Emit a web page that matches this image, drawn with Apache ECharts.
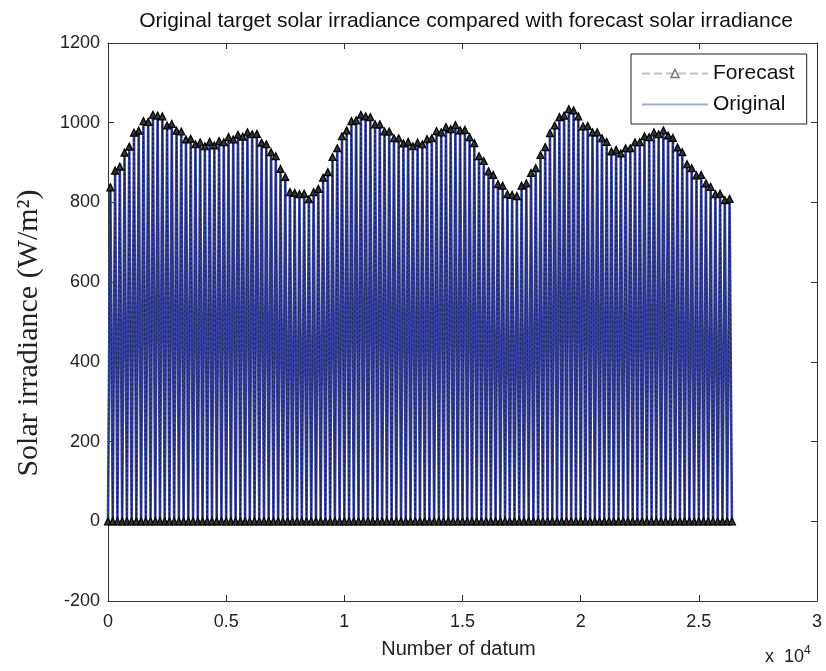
<!DOCTYPE html>
<html>
<head>
<meta charset="utf-8">
<script src="https://cdn.jsdelivr.net/npm/echarts@6/dist/echarts.min.js"></script>
<style>
html, body { margin: 0; padding: 0; background: #fff; }
#main { width: 826px; height: 671px; }
</style>
</head>
<body>
<div id="main"></div>
<script>
var step = 200;
var nightValue = 0;
var originalPeak = [
  845, 875, 895, 918, 945, 970, 985, 998, 1007, 1015,
  1022, 1012, 998, 992, 984, 975, 962, 955, 950, 947,
  945, 948, 946, 950, 955, 960, 962, 966, 968, 972,
  975, 968, 955, 942, 930, 912, 888, 860, 830, 820,
  825, 818, 812, 822, 838, 858, 880, 910, 940, 962,
  985, 1000, 1010, 1016, 1020, 1010, 1000, 992, 982, 974,
  965, 957, 952, 948, 945, 946, 950, 955, 965, 975,
  980, 985, 988, 990, 985, 978, 968, 945, 920, 900,
  882, 865, 850, 838, 825, 815, 820, 838, 852, 870,
  890, 915, 943, 970, 997, 1010, 1022, 1030, 1035, 1012,
  995, 988, 980, 972, 965, 948, 932, 928, 927, 932,
  940, 947, 955, 962, 968, 972, 975, 977, 972, 958,
  942, 922, 900, 882, 872, 865, 852, 835, 825, 818,
  810, 805
];
var forecastPeak = [
  838, 880, 890, 925, 940, 975, 980, 1004, 1002, 1020,
  1018, 1016, 993, 997, 980, 978, 958, 960, 946, 951,
  941, 952, 943, 954, 951, 964, 958, 970, 965, 976,
  971, 972, 950, 946, 926, 916, 884, 864, 826, 824,
  821, 822, 808, 826, 834, 862, 876, 914, 936, 966,
  981, 1004, 1006, 1020, 1016, 1014, 996, 996, 978, 978,
  961, 961, 948, 952, 941, 950, 946, 959, 961, 979,
  976, 989, 984, 994, 981, 982, 964, 949, 916, 904,
  878, 869, 846, 842, 821, 819, 816, 842, 848, 874,
  886, 919, 939, 974, 993, 1014, 1018, 1034, 1031, 1016,
  991, 992, 976, 976, 961, 952, 928, 932, 923, 936,
  936, 951, 951, 966, 964, 976, 971, 981, 968, 962,
  938, 926, 896, 886, 868, 869, 848, 839, 821, 822,
  806, 809
];

function dayCycle(peaks) {
  var res = [[0, nightValue]];
  for (var i = 0; i < peaks.length; i++) {
    res.push([i * step + step / 2, peaks[i]]);
    res.push([(i + 1) * step, nightValue]);
  }
  return res;
}

var myChart = echarts.init(document.getElementById('main'));

var tickStyle = {color: '#222', fontSize: 18, fontFamily: 'Liberation Sans'};
var frameLine = {onZero: false, lineStyle: {color: '#333'}};
var frameTick = {inside: true, length: 6, lineStyle: {color: '#333'}};

var option = {
  backgroundColor: '#fff',
  animation: false,
  title: {
    text: 'Original target solar irradiance compared with forecast solar irradiance',
    left: 461,
    textAlign: 'center',
    top: 6,
    textStyle: {color: '#111', fontSize: 21, fontWeight: 'normal', fontFamily: 'Liberation Sans'}
  },
  grid: {left: 108, right: 9, top: 43, bottom: 70},
  legend: {
    orient: 'vertical',
    left: 631,
    top: 54,
    padding: [9, 12, 9, 10],
    itemGap: 10,
    itemWidth: 66,
    itemHeight: 10,
    backgroundColor: '#fff',
    borderColor: '#222',
    borderWidth: 1,
    borderRadius: 0,
    textStyle: {color: '#111', fontSize: 21, fontFamily: 'Liberation Sans'},
    data: [
      {name: 'Forecast', lineStyle: {color: '#999', width: 2}, itemStyle: {color: '#fff', borderColor: '#777', borderWidth: 1.5}},
      {name: 'Original', icon: 'path://M0,4H66V6H0Z M0,0H0.01V10H0Z', itemStyle: {color: '#a4abd8'}}
    ]
  },
  xAxis: [
    {
      type: 'value', min: 0, max: 30000, interval: 5000,
      name: 'Number of datum', nameLocation: 'middle', nameGap: 38,
      nameTextStyle: {color: '#222', fontSize: 20, fontFamily: 'Liberation Sans', padding: [0, 8, 0, 0]},
      axisLine: frameLine,
      axisTick: frameTick,
      axisLabel: Object.assign({margin: 12, formatter: function (v) { return String(v / 10000); }}, tickStyle),
      splitLine: {show: false}
    },
    {
      type: 'value', min: 0, max: 30000, interval: 5000, position: 'top',
      axisLine: frameLine,
      axisTick: frameTick,
      axisLabel: {show: false},
      splitLine: {show: false}
    }
  ],
  yAxis: [
    {
      type: 'value', min: -200, max: 1200, interval: 200,
      name: 'Solar irradiance (W/m²)', nameLocation: 'middle', nameGap: 64,
      nameTextStyle: {color: '#222', fontSize: 30, fontFamily: 'Liberation Serif', padding: [0, 22, 0, 0]},
      axisLine: frameLine,
      axisTick: frameTick,
      axisLabel: Object.assign({margin: 8, formatter: function (v) { return String(v); }}, tickStyle),
      splitLine: {show: false}
    },
    {
      type: 'value', min: -200, max: 1200, interval: 200, position: 'right',
      axisLine: frameLine,
      axisTick: frameTick,
      axisLabel: {show: false},
      splitLine: {show: false}
    }
  ],
  graphic: [
    {
      type: 'text',
      left: 765,
      top: 645,
      style: {
        text: '{a|x  10}{s|4}',
        rich: {
          a: {fontSize: 18, fontFamily: 'Liberation Sans', fill: '#222'},
          s: {fontSize: 12, fontFamily: 'Liberation Sans', fill: '#222', padding: [0, 0, 12, 0]}
        }
      }
    }
  ],
  series: [
    {
      name: 'Original',
      type: 'line',
      data: dayCycle(originalPeak),
      symbol: 'none',
      sampling: null,
      lineStyle: {color: '#3847a6', width: 2.6},
      itemStyle: {color: '#a4abd8'},
      z: 2
    },
    {
      name: 'Forecast',
      type: 'line',
      data: dayCycle(forecastPeak),
      symbol: 'triangle',
      symbolSize: 7,
      showSymbol: true,
      showAllSymbol: true,
      lineStyle: {color: '#000', width: 0.8, type: 'dashed', opacity: 0.6},
      itemStyle: {color: '#333', borderColor: '#000', borderWidth: 1.2},
      z: 3
    }
  ]
};

myChart.setOption(option);
</script>
</body>
</html>
